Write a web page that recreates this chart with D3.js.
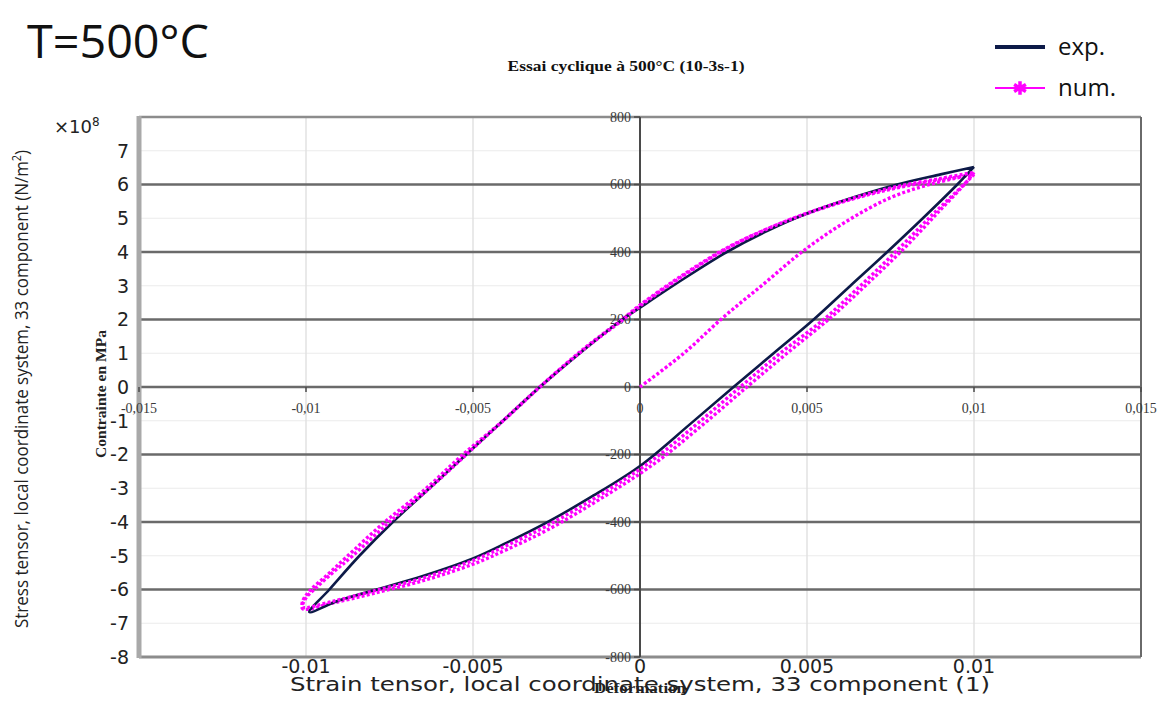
<!DOCTYPE html>
<html><head><meta charset="utf-8">
<script src="https://cdn.jsdelivr.net/npm/d3@7"></script>
<style>body{margin:0;background:#fff}svg{display:block}</style>
</head><body>
<svg id="chart" width="1169" height="725"></svg>
<script>
// ---------- data ----------
const expStrain = [0.0100,0.0095,0.0085,0.0074,0.0063,0.0052,0.0040,0.0028,0.0015,0.0000,-0.0015,-0.0028,-0.0040,-0.0050,-0.0065,-0.0080,-0.0090,-0.0099,
  -0.0093,-0.0084,-0.0074,-0.0063,-0.0052,-0.0041,-0.0030,-0.0018,-0.0006,0.0000,0.0013,0.0026,0.0038,0.0050,0.0064,0.0077,0.0090,0.0100];
const expStress = [652,600,503,400,300,200,100,0,-110,-234,-328,-402,-462,-508,-560,-603,-632,-667,
  -600,-500,-400,-300,-200,-100,0,100,195,235,320,400,462,514,562,600,630,652];

const numInitStrain = [0,0.0013,0.0025,0.0037,0.0049,0.0062,0.0075,0.0087,0.0100];
const numInitStress = [0,99,207,305,404,492,561,601,630];

const numCycle1Strain = [0.0100,0.0097,0.0087,0.0077,0.0066,0.0055,0.0042,0.0030,0.0017,0.0004,-0.0010,-0.0028,-0.0040,-0.0050,-0.0065,-0.0080,-0.0092,-0.0101,
  -0.0100,-0.0097,-0.0092,-0.0086,-0.0075,-0.0063,-0.0052,-0.0041,-0.0030,-0.0017,-0.0005,0.0000,0.0013,0.0026,0.0038,0.0050,0.0064,0.0077,0.0090,0.0100];
const numCycle1Stress = [630,600,505,405,300,200,100,0,-110,-215,-308,-412,-470,-514,-566,-605,-635,-652,
  -625,-595,-550,-500,-400,-300,-200,-100,0,110,200,240,330,410,468,515,560,594,618,636];

const numCycle2Strain = [0.0100,0.0098,0.0089,0.0079,0.0068,0.0057,0.0044,0.0032,0.0019,0.0005,-0.0010,-0.0028,-0.0040,-0.0050,-0.0065,-0.0080,-0.0092,-0.0101,
  -0.0101,-0.0099,-0.0094,-0.0088,-0.0077,-0.0064,-0.0053,-0.0041,-0.0030,-0.0017,-0.0005,0.0000,0.0013,0.0026,0.0038,0.0050,0.0064,0.0077,0.0090,0.0100];
const numCycle2Stress = [636,610,515,410,305,205,100,0,-110,-222,-320,-425,-482,-525,-574,-612,-640,-657,
  -635,-605,-560,-505,-405,-300,-200,-100,0,112,203,243,333,412,468,514,558,590,614,630];

const innerXTicks = [-0.015,-0.01,-0.005,0,0.005,0.01,0.015];
const innerYTicks = [-800,-600,-400,-200,0,200,400,600,800];
const minorYTicks = [-700,-500,-300,-100,100,300,500,700];
const outerXTicks = [-0.01,-0.005,0,0.005,0.01];
const outerYTicks = [-8,-7,-6,-5,-4,-3,-2,-1,0,1,2,3,4,5,6,7];

// ---------- layout ----------
const svg = d3.select('#chart');
const L = 139, R = 1141, T = 117, B = 657;
const x = d3.scaleLinear().domain([-0.015,0.015]).range([L,R]);
const y = d3.scaleLinear().domain([-800,800]).range([B,T]);
const yOuter = d3.scaleLinear().domain([-8,8]).range([B,T]);

svg.append('rect').attr('width',1169).attr('height',725).attr('fill','#fff');

const g = svg.append('g');
g.selectAll('.minor').data(minorYTicks).join('line')
  .attr('x1',L).attr('x2',R).attr('y1',d=>y(d)).attr('y2',d=>y(d))
  .attr('stroke','#ebebeb').attr('stroke-width',1.2);
g.selectAll('.vg').data(innerXTicks.filter(d=>d!==0 && Math.abs(d)<0.015)).join('line')
  .attr('x1',d=>x(d)).attr('x2',d=>x(d)).attr('y1',T).attr('y2',B)
  .attr('stroke','#e2e2e2').attr('stroke-width',1.5);
g.selectAll('.major').data(innerYTicks.filter(d=>Math.abs(d)<800)).join('line')
  .attr('x1',L).attr('x2',R).attr('y1',d=>y(d)).attr('y2',d=>y(d))
  .attr('stroke','#6a6a6a').attr('stroke-width',2.6);
// frame
g.append('line').attr('x1',L).attr('x2',R).attr('y1',T).attr('y2',T).attr('stroke','#8c8c8c').attr('stroke-width',2.5);
g.append('line').attr('x1',L).attr('x2',R).attr('y1',B).attr('y2',B).attr('stroke','#8c8c8c').attr('stroke-width',3);
g.append('line').attr('x1',R).attr('x2',R).attr('y1',T).attr('y2',B).attr('stroke','#6a6a6a').attr('stroke-width',2);
g.append('line').attr('x1',L).attr('x2',L).attr('y1',T-1).attr('y2',B+1).attr('stroke','#a9a9a9').attr('stroke-width',5);

// inner y axis (Excel)
const x0 = x(0);
g.append('line').attr('x1',x0).attr('x2',x0).attr('y1',T).attr('y2',B).attr('stroke','#4a4a4a').attr('stroke-width',2);
g.selectAll('.ytk').data(innerYTicks).join('line')
  .attr('x1',x0-6).attr('x2',x0).attr('y1',d=>y(d)).attr('y2',d=>y(d)).attr('stroke','#4a4a4a').attr('stroke-width',1.5);
g.selectAll('.ylab').data(innerYTicks).join('text')
  .attr('x',x0-9).attr('y',d=>y(d)).attr('dy','0.35em').attr('text-anchor','end')
  .attr('font-family','Liberation Serif').attr('font-size',14).attr('fill','#3a3a3a')
  .text(d=>String(d));
g.selectAll('.xtk').data(innerXTicks).join('line')
  .attr('x1',d=>x(d)).attr('x2',d=>x(d)).attr('y1',y(0)).attr('y2',y(0)+5).attr('stroke','#4a4a4a').attr('stroke-width',1.5);
g.selectAll('.xlab').data(innerXTicks).join('text')
  .attr('x',d=>x(d)).attr('y',y(0)+26).attr('text-anchor','middle')
  .attr('font-family','Liberation Serif').attr('font-size',14).attr('fill','#3a3a3a')
  .text(d=>String(d).replace('.',','));

// ---------- curves ----------
const line = d3.line().x(d=>x(d[0])).y(d=>y(d[1])).curve(d3.curveCatmullRom.alpha(0.5));
const zip = (a,b)=>a.map((v,i)=>[v,b[i]]);
const numStyle = p => p.attr('fill','none').attr('stroke','#ff00ff').attr('stroke-width',3.4)
  .attr('stroke-dasharray','3 2.2');
g.append('path').datum(zip(numInitStrain,numInitStress)).attr('d',line).call(numStyle);
g.append('path').datum(zip(numCycle2Strain,numCycle2Stress)).attr('d',line).call(numStyle);
g.append('path').datum(zip(expStrain,expStress)).attr('d',line)
  .attr('fill','none').attr('stroke','#0d1a48').attr('stroke-width',2.6).attr('stroke-linejoin','miter');
g.append('path').datum(zip(numCycle1Strain,numCycle1Stress)).attr('d',line).call(numStyle);

// ---------- outer (COMSOL) axes labels ----------
svg.selectAll('.oy').data(outerYTicks).join('text')
  .attr('x',129).attr('y',d=>yOuter(d)).attr('dy','0.36em').attr('text-anchor','end')
  .attr('font-family','DejaVu Sans').attr('font-size',19).attr('fill','#222')
  .text(d=>String(d));
svg.selectAll('.ox').data(outerXTicks).join('text')
  .attr('x',d=>x(d)).attr('y',B+16).attr('text-anchor','middle')
  .attr('font-family','DejaVu Sans').attr('font-size',19).attr('fill','#222')
  .text(d=>String(d));
const mult = svg.append('text').attr('x',54).attr('y',133).attr('font-family','DejaVu Sans').attr('font-size',18).attr('fill','#222');
mult.append('tspan').text('×10');
mult.append('tspan').attr('dy',-7).attr('font-size',12).text('8');

svg.append('text').attr('x',640).attr('y',691).attr('text-anchor','middle')
  .attr('font-family','DejaVu Sans').attr('font-size',19).attr('fill','#222')
  .attr('textLength',700).attr('lengthAdjust','spacingAndGlyphs')
  .text('Strain tensor, local coordinate system, 33 component (1)');

const yl = svg.append('text').attr('transform','translate(28,389) rotate(-90)').attr('text-anchor','middle')
  .attr('font-family','Open Sans').attr('font-size',19).attr('fill','#222')
  .attr('textLength',478).attr('lengthAdjust','spacingAndGlyphs');
yl.append('tspan').text('Stress tensor, local coordinate system, 33 component (N/m');
yl.append('tspan').attr('dy',-7).attr('font-size',12).text('2');
yl.append('tspan').attr('dy',7).text(')');

// Excel titles
svg.append('text').attr('x',626).attr('y',71).attr('text-anchor','middle')
  .attr('font-family','Liberation Serif').attr('font-weight','bold').attr('font-size',15).attr('fill','#111')
  .attr('textLength',237).attr('lengthAdjust','spacingAndGlyphs')
  .text('Essai cyclique à 500°C (10-3s-1)');
svg.append('text').attr('transform','translate(106,394) rotate(-90)').attr('text-anchor','middle')
  .attr('font-family','Liberation Serif').attr('font-weight','bold').attr('font-size',14).attr('fill','#222')
  .attr('textLength',128).attr('lengthAdjust','spacingAndGlyphs')
  .text('Contrainte en MPa');
svg.append('text').attr('x',640).attr('y',693).attr('text-anchor','middle')
  .attr('font-family','Liberation Serif').attr('font-weight','bold').attr('font-size',14).attr('fill','#222')
  .attr('textLength',92).attr('lengthAdjust','spacingAndGlyphs')
  .text('Déformation');

// big temperature label
svg.append('text').attr('x',27).attr('y',58).attr('font-family','Open Sans').attr('font-size',45).attr('fill','#111')
  .attr('textLength',182).attr('lengthAdjust','spacingAndGlyphs').text('T=500°C');

// legend
const lg = svg.append('g');
lg.append('line').attr('x1',995).attr('x2',1045).attr('y1',47).attr('y2',47).attr('stroke','#0d1a48').attr('stroke-width',4);
lg.append('text').attr('x',1058).attr('y',55).attr('font-family','Open Sans').attr('font-size',24).attr('fill','#111').text('exp.');
lg.append('line').attr('x1',995).attr('x2',1045).attr('y1',88).attr('y2',88).attr('stroke','#ff00ff').attr('stroke-width',2);
lg.append('path').attr('d',d3.symbol(d3.symbolAsterisk,130)()).attr('transform','translate(1020,88)')
  .attr('fill','none').attr('stroke','#ff00ff').attr('stroke-width',3.5);
lg.append('text').attr('x',1058).attr('y',96).attr('font-family','Open Sans').attr('font-size',24).attr('fill','#111').text('num.');
</script>
</body></html>
